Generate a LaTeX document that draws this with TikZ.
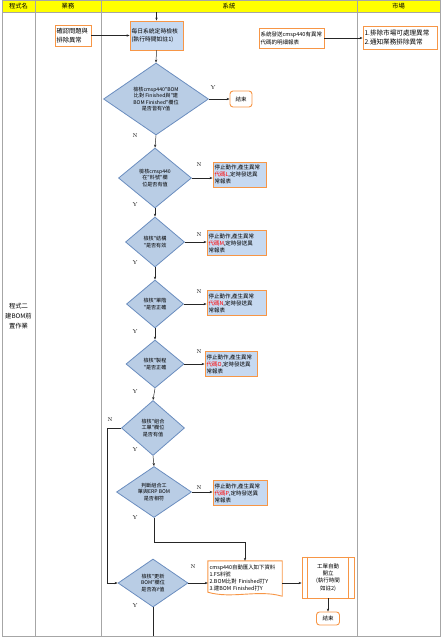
\documentclass[tikz,border=0pt]{standalone}
\usepackage{fontspec}
\newfontfamily\cjk{Noto Sans CJK TC}
\usetikzlibrary{shapes.geometric,arrows.meta}
\definecolor{orng}{HTML}{F79646}
\definecolor{lblue}{HTML}{C6D9F1}
\definecolor{dfill}{HTML}{B9CDE5}
\definecolor{dline}{HTML}{6A8DBF}
\definecolor{gridc}{HTML}{A6A6A6}
\definecolor{hdr}{HTML}{FFFF00}
\newcommand{\fs}[2]{\cjk\fontsize{#1}{#2}\selectfont}
\newcommand{\rd}[1]{\textcolor{red}{#1}}
\begin{document}
\begin{tikzpicture}[x=1pt,y=-1pt,
  box/.style={draw=orng, line width=0.9pt, fill=white, align=left, inner sep=1.5pt},
  bluebox/.style={box, fill=lblue},
  stopbox/.style={bluebox, font=\fs{5.5}{7}, text width=#1, minimum height=25pt},
  dia/.style={diamond, draw=dline, line width=0.8pt, fill=dfill, font=\fs{5.1}{6.1}, align=center, inner sep=0pt},
  endbox/.style={box, rounded corners=3pt, align=center, font=\fs{5.5}{6.5}, inner sep=0pt},
  arr/.style={-{Stealth[length=3pt,width=2.4pt]}, draw=black!85, line width=0.5pt},
  ln/.style={draw=black!85, line width=0.5pt},
  lbl/.style={font=\fontsize{5.5}{6}\selectfont, inner sep=0pt},
  grid/.style={draw=gridc, line width=0.8pt}]
\useasboundingbox (0,0) rectangle (443,638);
% frame and header
\fill[hdr] (2,0) rectangle (440,12);
\draw[grid] (2,0) rectangle (440,636);
\draw[grid] (2,12) -- (440,12);
\draw[grid] (35,0) -- (35,636);
\draw[grid] (101,0) -- (101,636);
\draw[grid] (357,0) -- (357,636);
\node[font=\fs{6.3}{7}] (h1) at (18.5,6.3) {程式名};
\node[font=\fs{6.3}{7}] (h2) at (68,6.3) {業務};
\node[font=\fs{6.3}{7}] (h3) at (229,6.3) {系統};
\node[font=\fs{6.3}{7}] (h4) at (398.5,6.3) {市場};
\node[font=\fs{6.3}{10}, align=center] (prog) at (18.5,316) {程式二\\建BOM前\\置作業};
% top row
\coordinate (top) at (156.5,12);
\node[box, font=\fs{6.3}{8.5}, text width=33pt, minimum height=21pt] (conf) at (73,35.5) {確認問題與\\排除異常};
\node[bluebox, font=\fs{5.8}{7.7}, text width=50pt, minimum height=29pt] (daily) at (156.5,35.5) {每日系統定時檢核\\(執行時間如註1)\\[4pt]};
\node[box, font=\fs{5.5}{8}, text width=62pt, minimum height=20pt] (send) at (291.5,38) {系統發送cmsp440有異常\\代碼的明細報表};
\node[box, font=\fs{6.6}{9}, text width=71pt, minimum height=23pt] (mkt) at (400,37.5) {1.排除市場可處理異常\\2.通知業務排除異常};
% diamonds
\node[dia, minimum width=105pt, minimum height=72pt] (d1) at (156,99) {檢核cmsp440"BOM\\比對 Finished與"建\\BOM Finished"欄位\\是否皆有Y值};
\node[endbox, minimum width=22pt, minimum height=16pt] (e1) at (241,99) {結束};
\node[dia, minimum width=73pt, minimum height=60pt] (d2) at (155,178) {檢核cmsp440\\在"料號"欄\\位是否有值};
\node[stopbox=50pt] (s2) at (239.5,174.5) {停止動作,產生異常\\\rd{代碼L},定時發送異\\常報表};
\node[dia, minimum width=59pt, minimum height=50pt] (d3) at (155,242) {檢核"結構\\"是否有效};
\node[stopbox=56pt] (s3) at (236.5,243) {停止動作,產生異常\\\rd{代碼M},定時發送異\\常報表};
\node[dia, minimum width=57pt, minimum height=48pt] (d4) at (155,304) {檢核"單階\\"是否正確};
\node[stopbox=56pt] (s4) at (236.5,303) {停止動作,產生異常\\\rd{代碼N},定時發送異\\常報表};
\node[dia, minimum width=58pt, minimum height=48pt] (d5) at (155,364) {檢核"製程\\"是否正確};
\node[stopbox=49pt] (s5) at (231,364) {停止動作,產生異常\\\rd{代碼O},定時發送異\\常報表};
\node[dia, minimum width=63pt, minimum height=55pt] (d6) at (153,428) {檢核"組合\\工單"欄位\\是否有值};
\node[dia, minimum width=75pt, minimum height=51pt] (d7) at (154,492) {判斷組合工\\單與ERP BOM\\是否相符};
\node[stopbox=51pt] (s7) at (240,493) {停止動作,產生異常\\\rd{代碼P},定時發送異\\常報表};
\node[dia, minimum width=70pt, minimum height=48pt] (d8) at (153,583) {檢核"更新\\BOM"欄位\\是否為Y值};
% document shape
\node[inner sep=1.5pt, align=left, font=\fs{5.4}{7.2}, text width=71pt, minimum width=74pt, minimum height=34pt] (doc) at (245,578) {cmsp440自動匯入如下資料\\1.FS料號\\2.BOM比對 Finished打Y\\3.建BOM Finished打Y};
\draw[draw=orng, line width=0.9pt] (doc.north west) -- (doc.north east) -- ([yshift=-1pt]doc.south east)
  .. controls +(-24,-7) and +(24,7) .. ([yshift=3pt]doc.south west) -- cycle;
% predefined process
\node[box, font=\fs{5.5}{7.3}, align=center, text width=38pt, minimum width=52pt, minimum height=41pt] (proc) at (328,577.5) {工單自動\\開立\\(執行時間\\如註2)};
\draw[draw=orng, line width=0.9pt] ([xshift=6pt]proc.north west) -- ([xshift=6pt]proc.south west);
\draw[draw=orng, line width=0.9pt] ([xshift=-6pt]proc.north east) -- ([xshift=-6pt]proc.south east);
\node[endbox, minimum width=23pt, minimum height=13pt] (e2) at (328,618.5) {結束};
\coordinate (bot) at (153,636);
% connectors
\draw[arr] (top) -- (daily.north);
\draw[arr] (conf.east) -- (conf.east -| daily.west);
\draw[arr] (send.east) -- (send.east -| mkt.west);
\draw[arr] (daily.south) -- (d1.north);
\draw[arr] (d1.east) -- (e1.west);
\draw[arr] (d1.south) -- (d2.north);
\draw[arr] (d2.east) -- (d2.east -| s2.west);
\draw[arr] (d2.south) -- (d3.north);
\draw[arr] (d3.east) -- (d3.east -| s3.west);
\draw[arr] (d3.south) -- (d4.north);
\draw[arr] (d4.east) -- (d4.east -| s4.west);
\draw[arr] (d4.south) -- (d5.north);
\draw[arr] (d5.east) -- (d5.east -| s5.west);
\draw[arr] (d5.south) -- (d6.north);
\draw[arr] (d6.south) -- (d7.north);
\draw[arr] (d6.west) -- ++(-14,0) |- (d8.west);
\draw[arr] (d7.east) -- (d7.east -| s7.west);
\draw[arr] (d7.south) -- ++(0,24) -| (doc.north);
\draw[arr] (d8.east) -- (d8.east -| doc.west);
\draw[arr] (doc.east |- d8.east) -- (d8.east -| proc.west);
\draw[arr] (proc.south -| e2.north) -- (e2.north);
\draw[ln] (d8.south) -- (bot);
% labels
\node[lbl] (l1) at (213,88) {Y};
\node[lbl] (l2) at (135,136) {N};
\node[lbl] (l3) at (199,165) {N};
\node[lbl] (l4) at (135,205) {Y};
\node[lbl] (l5) at (199,235) {N};
\node[lbl] (l6) at (135,263) {Y};
\node[lbl] (l7) at (199,292) {N};
\node[lbl] (l8) at (135,332) {Y};
\node[lbl] (l9) at (199,352) {N};
\node[lbl] (l10) at (135,392) {Y};
\node[lbl] (l11) at (110,420) {N};
\node[lbl] (l12) at (135,450) {Y};
\node[lbl] (l13) at (199,488) {N};
\node[lbl] (l14) at (135,518) {Y};
\node[lbl] (l15) at (193,567) {N};
\node[lbl] (l16) at (135,606) {Y};
\end{tikzpicture}
\end{document}
